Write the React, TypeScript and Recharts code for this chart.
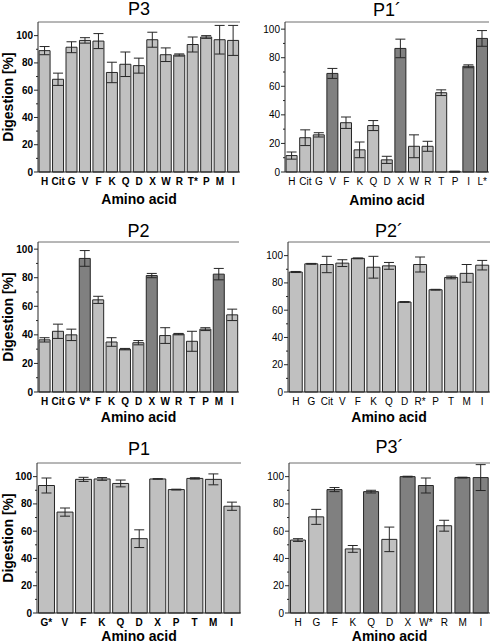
import { BarChart, Bar, XAxis, YAxis, ErrorBar, Cell } from "recharts";

// ---- data ----
const p3Labels = ["H", "Cit", "G", "V", "F", "K", "Q", "D", "X", "W", "R", "T*", "P", "M", "I"];
const p3Values = [89, 68, 91.5, 96.5, 96, 73, 79, 78, 97, 86, 85.8, 93.5, 99, 97, 96.5];
const p3Errors = [3, 4.5, 4, 2, 5.5, 7.5, 9, 5.5, 5.5, 5, 0.8, 5.5, 1, 10.5, 11];
const p3Dark: string[] = [];

const p1pLabels = ["H", "Cit", "G", "V", "F", "K", "Q", "D", "X", "W", "R", "T", "P", "I", "L*"];
const p1pValues = [11.5, 24, 26, 69, 34.5, 15.5, 32.5, 8.5, 86.5, 18, 18, 55.5, 0.3, 74, 93.5];
const p1pErrors = [2.5, 5.5, 1.5, 3.5, 4, 5.5, 3.5, 2.5, 6.5, 8, 3.5, 2, 0.3, 1, 5.5];
const p1pDark = ["V", "X", "I", "L*"];

const p2Labels = ["H", "Cit", "G", "V*", "F", "K", "Q", "D", "X", "W", "R", "T", "P", "M", "I"];
const p2Values = [36.5, 42.5, 40, 93.5, 64.5, 35, 30, 34.5, 81.5, 39.5, 40.5, 35.5, 44, 82.5, 54];
const p2Errors = [1.5, 5, 4, 5.5, 2.5, 3, 0.5, 1.5, 1.5, 5.5, 0.5, 7, 1, 4, 4];
const p2Dark = ["V*", "X", "M"];

const p2pLabels = ["H", "G", "Cit", "V", "F", "K", "Q", "D", "R*", "P", "T", "M", "I"];
const p2pValues = [88, 94, 93.5, 94.5, 98, 91.5, 92.5, 66, 93.5, 75, 84, 87, 93];
const p2pErrors = [0.4, 0.3, 6, 2.5, 0.3, 8, 2.5, 0.3, 5.5, 0.3, 1, 6.5, 3.5];
const p2pDark: string[] = [];

const p1Labels = ["G*", "V", "F", "K", "Q", "D", "X", "P", "T", "M", "I"];
const p1Values = [93.5, 74, 98, 98.3, 95, 54.5, 98.3, 90.5, 98.7, 98, 78.3];
const p1Errors = [5.5, 3, 1.5, 1, 2.5, 6.5, 0.2, 0.3, 0.5, 4, 3];
const p1Dark: string[] = [];

const p3pLabels = ["H", "G", "F", "K", "Q", "D", "X", "W*", "R", "M", "I"];
const p3pValues = [53.5, 70.5, 90.5, 47, 89, 54, 100, 93.5, 64, 99.3, 99.3];
const p3pErrors = [1, 5.5, 1.5, 2.5, 1, 9, 0.3, 5.5, 4, 0.3, 9.5];
const p3pDark = ["F", "Q", "X", "W*", "M", "I"];

const yTicks = [0, 10, 20, 30, 40, 50, 60, 70, 80, 90, 100];
const yMajor = [0, 20, 40, 60, 80, 100];

const LIGHT = "#c0c0c0";
const DARK = "#808080";
const INK = "#262626";
const FRAME = "#6e6e6e";
const FONT = "'Liberation Sans', Arial, Helvetica, sans-serif";
const AXIS_W = 37;
const PLOT_H = 150;

type PanelProps = {
  title: string;
  labels: string[];
  values: number[];
  errors: number[];
  dark: string[];
  max: number;
  x: number;
  y: number;
  w: number;
  titleBase: number;
  labelOffset: number;
  bold: boolean;
  yLabel?: boolean;
};

function Panel(p: PanelProps) {
  const data = p.labels.map((name, i) => ({
    name,
    value: p.values[i],
    err: p.errors[i],
    dark: p.dark.includes(name),
  }));
  const bounds = p.labels.slice(1).map((_, i) => i + 1);
  const left = p.x - AXIS_W;
  const top = p.y - 22;
  const width = AXIS_W + p.w + 6;
  const weight = p.bold ? 700 : 400;

  const YTick = (props: any) => {
    const { x, y, payload } = props;
    const v = payload.value;
    const major = v % 20 === 0;
    return (
      <g>
        <line x1={x + 5 - (major ? 4 : 2)} x2={x + 5} y1={y} y2={y} stroke={INK} />
        {major && (
          <text x={x} y={y} dy={3.5} textAnchor="end" fontSize={10} fontWeight={weight} fontFamily={FONT} fill="#000">
            {v}
          </text>
        )}
      </g>
    );
  };

  return (
    <>
      <div
        style={{
          position: "absolute",
          left: p.x,
          width: p.w,
          top: p.titleBase - 15,
          textAlign: "center",
          fontFamily: FONT,
          fontSize: 18,
          lineHeight: "18px",
          color: "#000",
        }}
      >
        {p.title}
      </div>
      <div style={{ position: "absolute", left, top }}>
        <BarChart
          width={width}
          height={22 + PLOT_H + 40}
          data={data}
          margin={{ top: 22, right: 6, bottom: 0, left: 0 }}
          barCategoryGap="8%"
        >
          <XAxis
            dataKey="name"
            interval={0}
            tickLine={false}
            tickSize={3}
            tickMargin={3}
            height={40}
            axisLine={{ stroke: INK }}
            tick={{ fontSize: 10, fontWeight: weight, fill: "#000", fontFamily: FONT }}
            label={{
              value: "Amino acid",
              position: "insideBottom",
              offset: p.labelOffset,
              style: { fontSize: 14, fontWeight: 700, fill: "#000", fontFamily: FONT },
            }}
          />
          <XAxis
            xAxisId="top"
            orientation="top"
            type="number"
            domain={[0, p.labels.length]}
            ticks={bounds}
            allowDataOverflow
            mirror
            tick={false}
            tickSize={3}
            axisLine={{ stroke: FRAME }}
            tickLine={{ stroke: FRAME }}
          />
          <YAxis
            domain={[0, p.max]}
            ticks={yTicks}
            interval={0}
            width={AXIS_W}
            tickLine={false}
            tickSize={4}
            tickMargin={1}
            axisLine={{ stroke: INK }}
            tick={YTick}
            label={
              p.yLabel
                ? {
                    value: "Digestion [%]",
                    angle: -90,
                    position: "insideLeft",
                    offset: 8 - left,
                    style: { textAnchor: "middle", fontSize: 14, fontWeight: 700, fill: "#000", fontFamily: FONT },
                  }
                : undefined
            }
          />
          <YAxis
            yAxisId="right"
            orientation="right"
            mirror
            width={0}
            domain={[0, p.max]}
            ticks={yMajor}
            interval={0}
            tick={false}
            tickSize={3}
            tickLine={{ stroke: FRAME }}
            axisLine={{ stroke: FRAME }}
          />
          <Bar dataKey="value" stroke={INK} strokeWidth={1} isAnimationActive={false}>
            {data.map((d) => (
              <Cell key={d.name} fill={d.dark ? DARK : LIGHT} />
            ))}
            <ErrorBar dataKey="err" direction="y" width={5} stroke={INK} strokeWidth={1} isAnimationActive={false} />
          </Bar>
        </BarChart>
      </div>
    </>
  );
}

export default function App() {
  return (
    <div
      style={{
        position: "absolute",
        left: 0,
        top: 0,
        width: 496,
        height: 644,
        background: "#fff",
        overflow: "hidden",
      }}
    >
      <Panel title="P3" labels={p3Labels} values={p3Values} errors={p3Errors} dark={p3Dark}
        max={110} x={38} y={22} w={202} titleBase={15} labelOffset={8} bold yLabel />
      <Panel title="P1´" labels={p1pLabels} values={p1pValues} errors={p1pErrors} dark={p1pDark}
        max={105} x={285} y={22} w={204} titleBase={16} labelOffset={7} bold={false} />
      <Panel title="P2" labels={p2Labels} values={p2Values} errors={p2Errors} dark={p2Dark}
        max={105} x={38} y={242} w={201} titleBase={237} labelOffset={10} bold yLabel />
      <Panel title="P2´" labels={p2pLabels} values={p2pValues} errors={p2pErrors} dark={p2pDark}
        max={110} x={288} y={242} w={202} titleBase={237} labelOffset={10} bold={false} />
      <Panel title="P1" labels={p1Labels} values={p1Values} errors={p1Errors} dark={p1Dark}
        max={110} x={37} y={463} w={204} titleBase={455} labelOffset={12} bold yLabel />
      <Panel title="P3´" labels={p3pLabels} values={p3pValues} errors={p3pErrors} dark={p3pDark}
        max={110} x={289} y={463} w={201} titleBase={453} labelOffset={12} bold={false} />
    </div>
  );
}
